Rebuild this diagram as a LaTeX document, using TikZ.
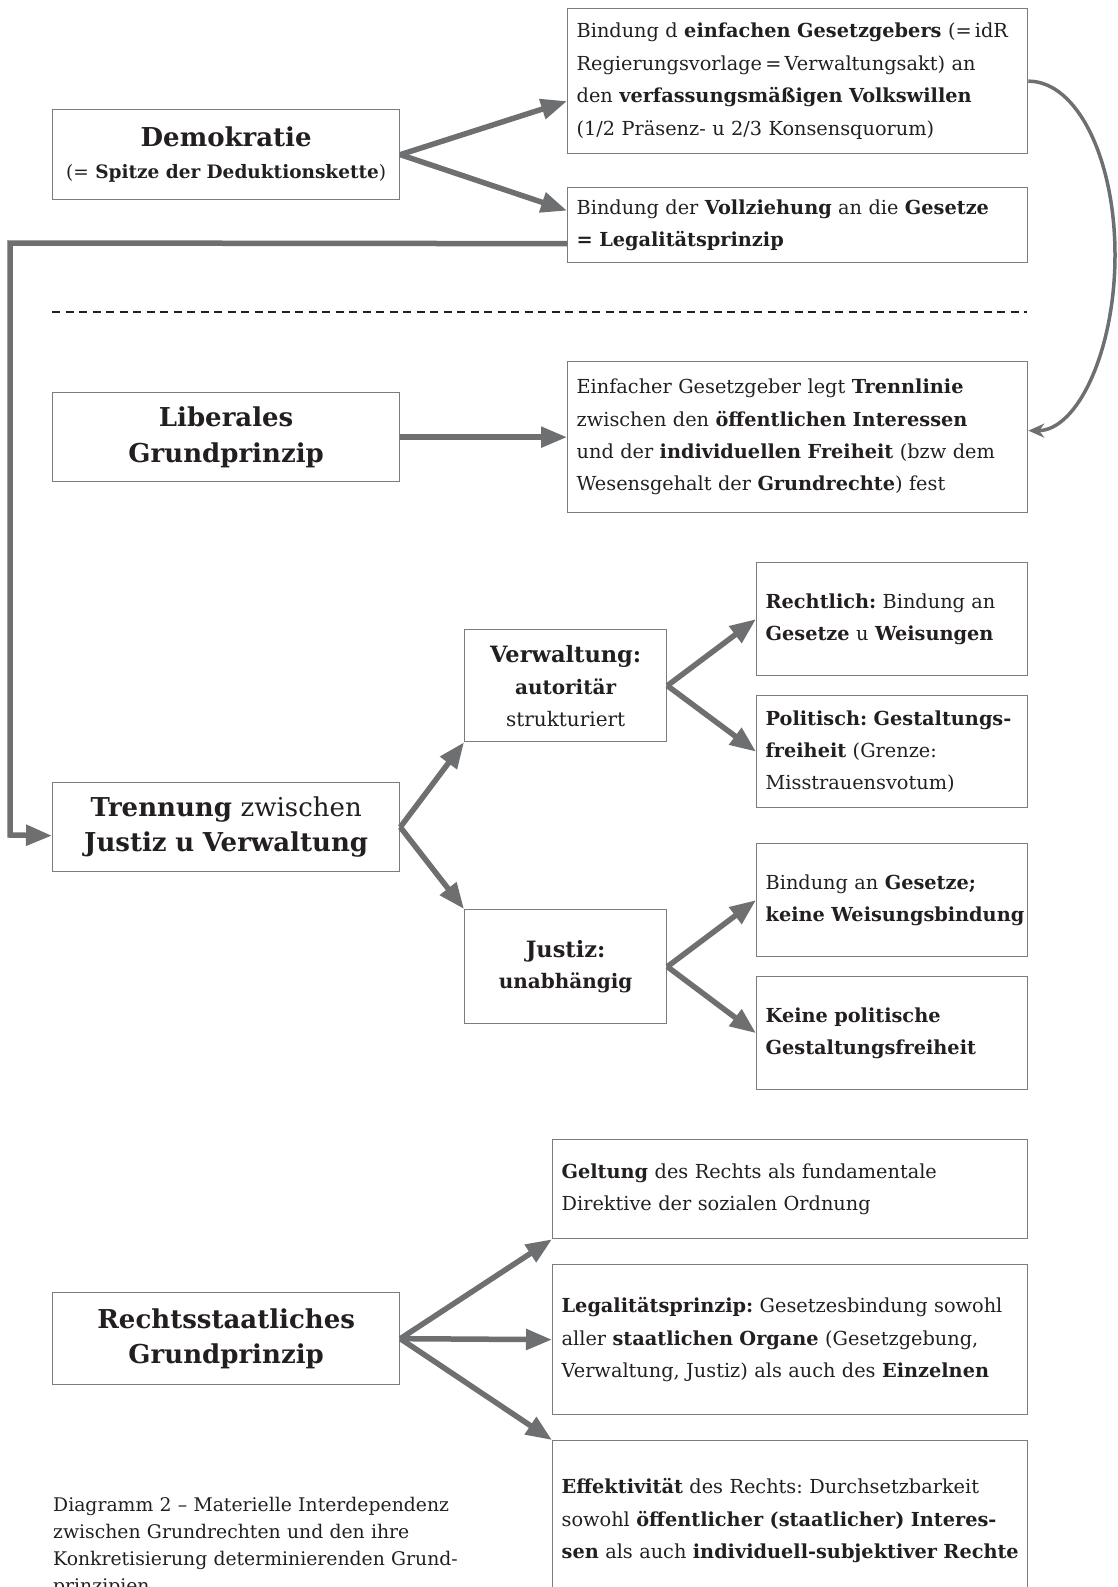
\documentclass[tikz,border=0pt]{standalone}
\usepackage{fontspec}
\setmainfont{DejaVu Serif}
\usetikzlibrary{arrows.meta}
\frenchspacing
\definecolor{lineg}{HTML}{6E6F71}
\definecolor{boxg}{HTML}{7B7C7E}
\definecolor{txt}{HTML}{231F20}
\begin{document}
\begin{tikzpicture}[x=1pt,y=-1pt,
  box/.style={draw=boxg, line width=1.3pt, inner xsep=9pt, inner ysep=0pt, text=txt,
    align=left, anchor=north west, font=\fontsize{19.3}{32.4}\selectfont},
  tbox/.style={box, align=center, font=\fontsize{26}{35.5}\selectfont\bfseries},
  conn/.style={draw=lineg, line width=5.5pt, line join=miter},
  arr/.style={conn, -{Triangle[length=26pt,width=20pt]}},
  curvearr/.style={draw=lineg, line width=3.5pt, -{Stealth[length=16pt,width=14pt]}},
  dashline/.style={draw=txt, line width=2pt, dash pattern=on 8pt off 5.5pt},
  captxt/.style={text=txt, align=left, anchor=north west, inner sep=0pt, text width=440pt,
    font=\fontsize{18.8}{27}\selectfont}]
\useasboundingbox (0,0) rectangle (1117,1587);

% ---- Demokratie block
\node[box, align=center, text width=329pt, minimum height=90pt] (demo) at (52,109)
  {{\fontsize{26}{32}\selectfont\bfseries Demokratie}\\
   {\fontsize{18.5}{32}\selectfont (= \textbf{Spitze der Deduktionskette})}};
\node[box, text width=442pt, minimum height=145pt] (b1) at (567,8)
  {\mbox{Bindung d \textbf{einfachen Gesetzgebers} (=\thinspace idR}\\
   Regierungsvorlage\thinspace=\thinspace Verwaltungsakt) an\\
   den \textbf{verfassungsmäßigen Volkswillen}\\
   (1/2 Präsenz- u 2/3 Konsensquorum)};
\node[box, text width=442pt, minimum height=75pt] (b2) at (567,187)
  {Bindung der \textbf{Vollziehung} an die \textbf{Gesetze}\\
   \textbf{= Legalitätsprinzip}};

\draw[arr] (demo.east) -- ([yshift=-20pt]b1.west);
\draw[arr] (demo.east) -- ([yshift=14.5pt]b2.west);

% dashed separator
\draw[dashline] (52,312) -- (1027,312);

% ---- Liberales block
\node[tbox, text width=329pt, minimum height=89pt] (lib) at (52,392)
  {Liberales\\Grundprinzip};
\node[box, text width=442pt, minimum height=151pt] (e1) at (567,361)
  {Einfacher Gesetzgeber legt \textbf{Trennlinie}\\
   zwischen den \textbf{öffentlichen Interessen}\\
   und der \textbf{individuellen Freiheit} (bzw dem\\
   Wesensgehalt der \textbf{Grundrechte}) fest};
\draw[arr] (lib.east) -- (e1.west);

\draw[curvearr] (b1.east) .. controls +(49,0) and +(0,-96) .. (1115,255)
  .. controls +(0,96) and +(49,0) .. ([yshift=6.5pt]e1.east);

% ---- Trennung block
\node[box, align=center, text width=329pt, minimum height=89pt,
  font=\fontsize{26}{35.5}\selectfont] (tren) at (52,782)
  {\textbf{Trennung} zwischen\\\textbf{Justiz u Verwaltung}};
\node[box, align=center, text width=184pt, minimum height=112pt,
  font=\fontsize{20}{32}\selectfont] (verw) at (464,629)
  {{\fontsize{22.5}{32}\selectfont\bfseries Verwaltung:}\\\textbf{autoritär}\\strukturiert};
\node[box, align=center, text width=184pt, minimum height=114pt,
  font=\fontsize{20}{31}\selectfont] (justiz) at (464,909)
  {{\fontsize{22.5}{31}\selectfont\bfseries Justiz:}\\\textbf{unabhängig}};
\node[box, text width=253pt, minimum height=113pt] (r1) at (756,562)
  {\textbf{Rechtlich:} Bindung an\\\textbf{Gesetze} u \textbf{Weisungen}};
\node[box, text width=253pt, minimum height=112pt] (r2) at (756,695)
  {\mbox{\textbf{Politisch: Gestaltungs-}}\\\textbf{freiheit} (Grenze:\\Misstrauensvotum)};
\node[box, text width=253pt, minimum height=113pt] (r3) at (756,843)
  {Bindung an \textbf{Gesetze;}\\\mbox{\textbf{keine Weisungsbindung}}};
\node[box, text width=253pt, minimum height=113pt] (r4) at (756,976)
  {\textbf{Keine politische}\\\textbf{Gestaltungsfreiheit}};

\coordinate (c1) at (10,243);
\coordinate (c2) at (10,835);
\draw[arr] ([yshift=-18.5pt]b2.west) -- (c1) -- (c2) -- ([yshift=-8.5pt]tren.west);

\draw[arr] (tren.east) -- (verw.south west);
\draw[arr] (tren.east) -- (justiz.north west);
\draw[arr] (verw.east) -- (r1.west);
\draw[arr] (verw.east) -- (r2.west);
\draw[arr] (justiz.east) -- (r3.west);
\draw[arr] (justiz.east) -- (r4.west);

% ---- Rechtsstaatliches block
\node[tbox, text width=329pt, minimum height=92pt] (rs) at (52,1292)
  {Rechtsstaatliches\\Grundprinzip};
\node[box, text width=457pt, minimum height=99pt] (g1) at (552,1139)
  {\textbf{Geltung} des Rechts als fundamentale\\Direktive der sozialen Ordnung};
\node[box, text width=457pt, minimum height=150pt] (g2) at (552,1264)
  {\mbox{\textbf{Legalitätsprinzip:} Gesetzesbindung sowohl}\\
   aller \textbf{staatlichen Organe} (Gesetzgebung,\\
   Verwaltung, Justiz) als auch des \textbf{Einzelnen}};
\node[box, text width=457pt, minimum height=160pt] (g3) at (552,1440)
  {\textbf{Effektivität} des Rechts: Durchsetzbarkeit\\
   \mbox{sowohl \textbf{öffentlicher (staatlicher) Interes-}}\\
   \mbox{\textbf{sen} als auch \textbf{individuell-subjektiver Rechte}}};
\draw[arr] (rs.east) -- (g1.south west);
\draw[arr] (rs.east) -- (g2.west);
\draw[arr] (rs.east) -- (g3.north west);

\node[captxt] (cap) at (53,1497)
  {Diagramm 2 – Materielle Interdependenz\\
   zwischen Grundrechten und den ihre\\
   Konkretisierung determinierenden Grund-\\
   prinzipien};
\end{tikzpicture}
\end{document}
